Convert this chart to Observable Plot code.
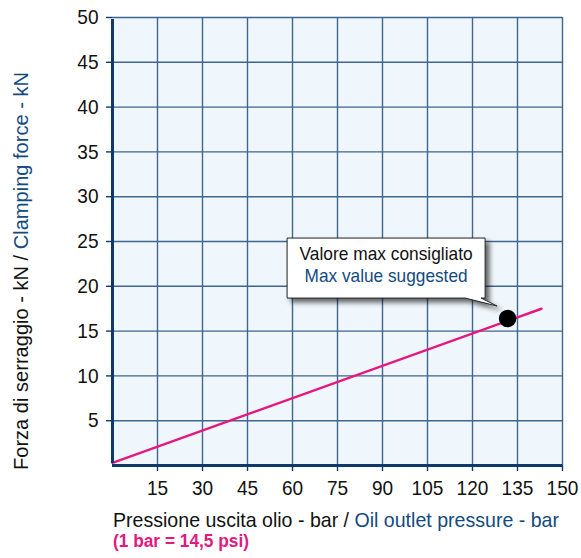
<!DOCTYPE html>
<html><head><meta charset="utf-8">
<script src="https://cdn.jsdelivr.net/npm/d3@7"></script>
<script src="https://cdn.jsdelivr.net/npm/@observablehq/plot@0.6"></script>
<style>
body{margin:0;background:#fff;}
</style></head><body><div id="chart"></div>
<script>
const xTicks = [15,30,45,60,75,90,105,120,135,150];
const yTicks = [5,10,15,20,25,30,35,40,45,50];
const linePressure = [0, 143];
const lineForce = [0.3, 17.5];
const maxPressure = [131.7];
const maxForce = [16.4];
const calloutIt = "Valore max consigliato";
const calloutEn = "Max value suggested";
const xTitleIt = "Pressione uscita olio - bar / ";
const xTitleEn = "Oil outlet pressure - bar";
const xNote = "(1 bar = 14,5 psi)";
const yTitleIt = "Forza di serraggio - kN / ";
const yTitleEn = "Clamping force - kN";

const line = linePressure.map((p,i)=>({p, f: lineForce[i]}));
const pts = maxPressure.map((p,i)=>({p, f: maxForce[i]}));

const gridC = "#3f6690", axisC = "#0d3a6b", navy = "#134a80", pink = "#e5187f";
const FONT = "'Liberation Sans', Arial, sans-serif";

const plot = Plot.plot({
  width: 581, height: 558,
  marginLeft: 112, marginTop: 17, marginRight: 19, marginBottom: 93,
  style: {fontSize: "20px", fontFamily: FONT, color: "#111", background: "#fff"},
  x: {domain: [0,150], ticks: xTicks, label: null},
  y: {domain: [0,50], ticks: yTicks, label: null},
  marks: [
    Plot.frame({fill: "#f0f7fc", stroke: null}),
    Plot.gridX(xTicks, {stroke: gridC, strokeOpacity: 1, strokeWidth: 1.4}),
    Plot.gridY(yTicks, {stroke: gridC, strokeOpacity: 1, strokeWidth: 1.4}),
    Plot.axisX({ticks: xTicks, tickSize: 6, tickPadding: 9, stroke: axisC, strokeWidth: 1.4, fontSize: 21, label: null}),
    Plot.axisY({ticks: yTicks, tickSize: 6, tickPadding: 8, stroke: axisC, strokeWidth: 1.4, fontSize: 21, label: null}),
    Plot.line(line, {x: "p", y: "f", stroke: pink, strokeWidth: 2.5}),
    Plot.ruleX([0], {stroke: axisC, strokeWidth: 3, y1: 0, y2: 50, insetTop: -2, insetBottom: -2}),
    Plot.ruleY([0], {stroke: axisC, strokeWidth: 3, x1: 0, x2: 150}),
    Plot.dot(pts, {x: "p", y: "f", r: 8, fill: "#000", stroke: "#000"})
  ]
});

const svg = d3.select(plot);
// narrow the tick labels a little (reference uses a condensed face)
svg.selectAll('g[aria-label$="tick label"] text').each(function(){
  const n = this.textContent.length;
  d3.select(this).attr("textLength", n*10.6).attr("lengthAdjust","spacingAndGlyphs");
});

const sx = plot.scale("x"), sy = plot.scale("y");
const px = sx.apply(pts[0].p), py = sy.apply(pts[0].f);

const defs = svg.append("defs");
const f = defs.append("filter").attr("id","sh").attr("x","-20%").attr("y","-20%").attr("width","150%").attr("height","160%");
f.append("feDropShadow").attr("dx",4).attr("dy",4).attr("stdDeviation",2.5).attr("flood-color","#000").attr("flood-opacity",0.6);

// callout anchored to the max point
const bx1 = px - 220, bx2 = px - 22, by1 = py - 80, by2 = py - 20;
const path = `M${bx1},${by1}H${bx2}V${by2}H${bx2-4}L${px-10},${py-12}L${bx2-20},${by2}H${bx1}Z`;
const g = svg.append("g").attr("font-family", FONT);
g.append("path").attr("d", path).attr("fill","#fff").attr("stroke","#222").attr("stroke-width",1).attr("filter","url(#sh)");
const cx = (bx1+bx2)/2;
g.append("text").attr("x",cx).attr("y",by1+22).attr("text-anchor","middle").attr("font-size",19)
  .attr("textLength",173).attr("lengthAdjust","spacingAndGlyphs").attr("fill","#111").text(calloutIt);
g.append("text").attr("x",cx).attr("y",by1+44).attr("text-anchor","middle").attr("font-size",19)
  .attr("textLength",163).attr("lengthAdjust","spacingAndGlyphs").attr("fill",navy).text(calloutEn);

// x title
const x0 = sx.apply(0) + 1;
const xt = svg.append("text").attr("x", x0).attr("y", 527).attr("text-anchor","start").attr("font-family", FONT).attr("font-size", 21)
  .attr("fill","#111").attr("textLength", 446).attr("lengthAdjust","spacingAndGlyphs");
xt.append("tspan").text(xTitleIt);
xt.append("tspan").attr("fill", navy).text(xTitleEn);
svg.append("text").attr("x", x0).attr("y", 547).attr("text-anchor","start").attr("font-family", FONT).attr("font-size", 17.5)
  .attr("font-weight","bold").attr("fill", pink).attr("textLength",136).attr("lengthAdjust","spacingAndGlyphs").text(xNote);

// y title
const yt = svg.append("text").attr("transform", `translate(28,470) rotate(-90)`).attr("text-anchor","start").attr("font-family", FONT)
  .attr("font-size", 21).attr("fill","#111").attr("textLength", 398).attr("lengthAdjust","spacingAndGlyphs");
yt.append("tspan").text(yTitleIt);
yt.append("tspan").attr("fill", navy).text(yTitleEn);

document.getElementById("chart").appendChild(plot);
</script></body></html>
